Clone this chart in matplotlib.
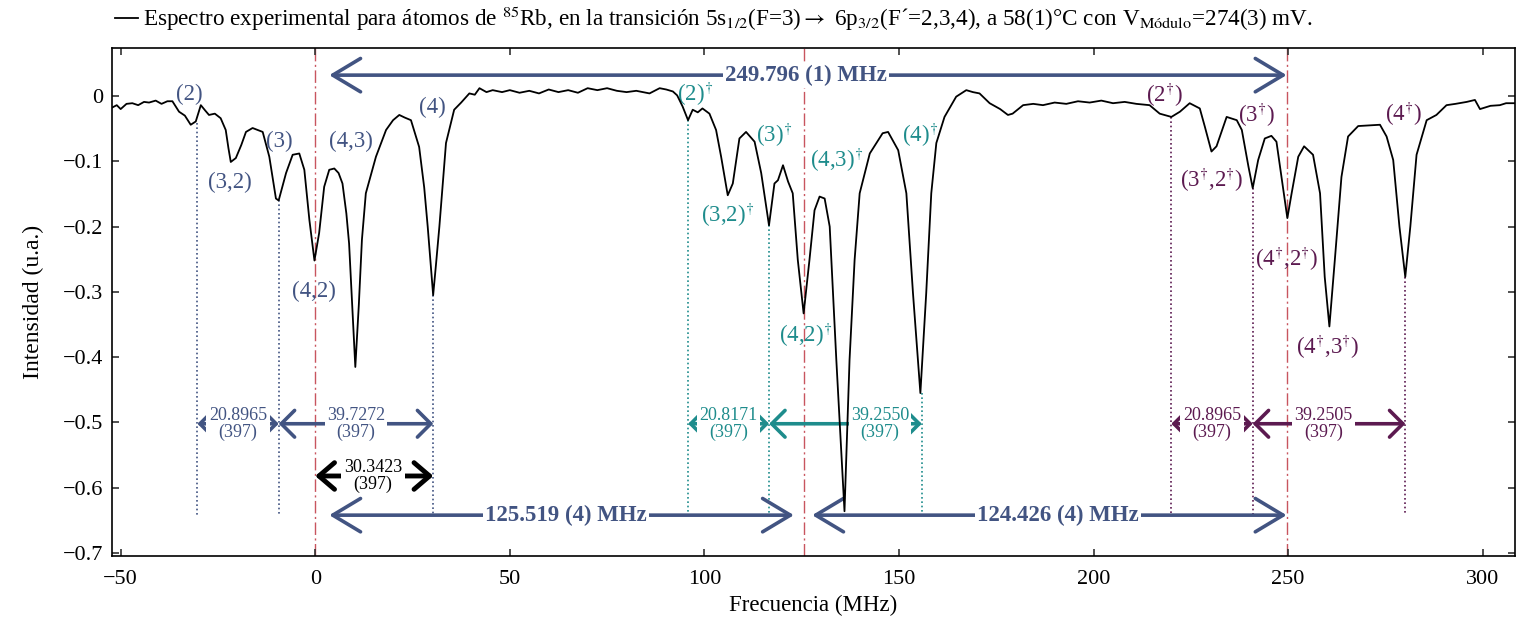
import numpy as np
import matplotlib.pyplot as plt

plt.rcParams['font.family'] = 'Liberation Serif'
plt.rcParams['mathtext.fontset'] = 'stix'
plt.rcParams['font.size'] = 16

# measured spectrum (MHz, a.u.)
freq = [-52.3, -51.0, -50.0, -48.5, -47.0, -45.5, -44.0, -42.7, -41.0, -39.5,
        -38.0, -36.7, -35.0, -33.5, -32.0, -30.7, -29.4, -28.3, -27.3, -25.8,
        -24.3, -23.0, -22.3, -21.7, -20.4, -19.0, -17.8, -16.1, -14.8, -13.5,
        -11.8, -10.1, -9.4, -7.5, -5.8, -4.1, -2.8, -1.5, -0.2, 1.0,
        2.3, 3.6, 4.9, 6.0, 7.0, 8.0, 8.7, 9.5, 10.3, 11.2,
        12.0, 13.0, 15.6, 18.2, 20.0, 21.6, 23.0, 24.6, 26.7, 28.0,
        28.9, 30.3, 31.0, 31.9, 33.6, 35.7, 37.5, 39.6, 41.0, 42.2,
        44.0, 45.6, 48.0, 50.0, 52.5, 55.0, 57.5, 60.0, 62.5, 65.0,
        67.5, 70.0, 72.5, 75.0, 77.5, 80.0, 82.5, 85.9, 88.5, 90.2,
        91.9, 93.0, 94.4, 95.8, 97.0, 98.3, 99.5, 101.3, 103.0, 104.3,
        106.0, 107.3, 109.0, 110.7, 112.9, 114.6, 116.6, 118.0, 118.9, 120.2,
        121.5, 122.7, 124.0, 125.5, 127.0, 128.3, 129.6, 130.9, 132.2, 133.9,
        136.0, 137.3, 138.6, 139.9, 142.5, 145.8, 147.2, 149.8, 151.9, 153.6,
        155.5, 157.0, 158.3, 159.6, 161.7, 164.7, 167.3, 169.0, 170.7, 173.3,
        176.0, 178.0, 179.2, 181.9, 184.5, 187.0, 190.0, 193.0, 196.0, 199.0,
        202.0, 205.0, 208.0, 211.0, 214.4, 217.0, 220.0, 222.2, 224.7, 227.3,
        228.6, 230.3, 231.6, 234.2, 236.8, 238.1, 239.8, 240.9, 242.3, 244.0,
        245.7, 247.0, 248.3, 249.8, 250.9, 252.6, 254.1, 256.4, 258.2, 259.4,
        260.6, 262.0, 263.7, 265.4, 268.0, 271.0, 273.6, 275.3, 277.0, 278.6,
        280.1, 281.4, 283.0, 285.6, 288.1, 290.7, 293.0, 295.9, 298.0, 299.3,
        302.0, 304.4, 306.0, 308.3]
intensity = [-0.018, -0.014, -0.020, -0.012, -0.011, -0.014, -0.009, -0.010, -0.007, -0.012,
             -0.008, -0.008, -0.024, -0.030, -0.044, -0.039, -0.014, -0.022, -0.029, -0.027,
             -0.034, -0.052, -0.080, -0.101, -0.095, -0.075, -0.055, -0.049, -0.052, -0.055,
             -0.093, -0.157, -0.160, -0.118, -0.090, -0.088, -0.113, -0.190, -0.252, -0.210,
             -0.139, -0.113, -0.111, -0.118, -0.134, -0.180, -0.226, -0.320, -0.415, -0.320,
             -0.220, -0.149, -0.093, -0.052, -0.037, -0.029, -0.033, -0.037, -0.078, -0.140,
             -0.200, -0.305, -0.260, -0.200, -0.072, -0.021, -0.010, 0.004, 0.002, 0.012,
             0.006, 0.009, 0.006, 0.009, 0.005, 0.008, 0.004, 0.010, 0.006, 0.009,
             0.005, 0.012, 0.009, 0.012, 0.008, 0.006, 0.008, 0.004, 0.012, 0.010,
             0.007, 0.001, -0.016, -0.037, -0.021, -0.025, -0.019, -0.027, -0.052, -0.093,
             -0.152, -0.134, -0.065, -0.055, -0.070, -0.118, -0.198, -0.134, -0.129, -0.106,
             -0.131, -0.149, -0.251, -0.333, -0.251, -0.175, -0.154, -0.157, -0.200, -0.404,
             -0.636, -0.404, -0.251, -0.149, -0.088, -0.057, -0.055, -0.083, -0.149, -0.302,
             -0.455, -0.302, -0.149, -0.072, -0.032, -0.001, 0.009, 0.006, 0.004, -0.011,
             -0.020, -0.029, -0.027, -0.014, -0.012, -0.014, -0.010, -0.012, -0.008, -0.010,
             -0.007, -0.011, -0.009, -0.012, -0.014, -0.027, -0.032, -0.024, -0.011, -0.019,
             -0.047, -0.085, -0.077, -0.032, -0.037, -0.052, -0.108, -0.141, -0.098, -0.065,
             -0.061, -0.070, -0.124, -0.187, -0.149, -0.093, -0.077, -0.090, -0.149, -0.277,
             -0.353, -0.251, -0.124, -0.062, -0.046, -0.045, -0.044, -0.062, -0.098, -0.200,
             -0.277, -0.200, -0.090, -0.037, -0.029, -0.014, -0.012, -0.009, -0.006, -0.020,
             -0.015, -0.014, -0.011, -0.011]

# crossover centres and the splittings between them
centres = [0.0, 125.519, 249.796]
splits = ['125.519 (4) MHz', '124.426 (4) MHz']
total_split = '249.796 (1) MHz'

# hyperfine peaks of each group and where their guides start
peaks_a = [-30.2814, -9.3849, 30.3423]
depth_a = [-0.041, -0.159, -0.305]
gaps_a = ['20.8965', '39.7272']
peaks_b = [95.82, 116.64, 155.86]
depth_b = [-0.037, -0.198, -0.455]
gaps_b = ['20.8171', '39.2550']
peaks_c = [219.99, 240.89, 280.14]
depth_c = [-0.032, -0.141, -0.277]
gaps_c = ['20.8965', '39.2505']
ref_gap = '30.3423'
n_points = '(397)'

blue = '#425482'
teal = '#1E8C8C'
plum = '#5C1A50'
red = '#C8555F'

fig = plt.figure(figsize=(15.26, 6.27), dpi=100)
ax = fig.add_axes([0.0732, 0.1132, 0.9196, 0.8107])

ax.plot(freq, intensity, color='black', lw=1.3, zorder=6,
        label='Espectro experimental para átomos de $^{85}$Rb, en la transición '
              '5s$_{1/2}$(F=3)$\\rightarrow$ 6p$_{3/2}$(F´=2,3,4), a 58(1)°C con '
              'V$_{\\mathrm{Módulo}}$=274(3) mV.')

for c in centres:
    ax.axvline(c, color=red, lw=1.0, ls=(0, (9, 2.5, 1.5, 2.5)), zorder=1)

y_guide = -0.642
for peaks, depth, col in [(peaks_a, depth_a, blue), (peaks_b, depth_b, teal),
                          (peaks_c, depth_c, plum)]:
    for p, d in zip(peaks, depth):
        ax.plot([p, p], [d, y_guide], color=col, lw=1.2, ls=(0, (1, 1.6)), zorder=2)


def span(x0, x1, y, col, lw, ms, hl, hw):
    ax.annotate('', xy=(x1, y), xytext=(x0, y), zorder=3,
                arrowprops=dict(arrowstyle=f'<->,head_length={hl},head_width={hw}',
                                color=col, lw=lw, shrinkA=0, shrinkB=0,
                                mutation_scale=ms))


def tag(x, y, s, col, size, weight='normal', pad=1.5):
    ax.text(x, y, s, ha='center', va='center', color=col, fontsize=size,
            fontweight=weight, linespacing=0.95, zorder=5,
            bbox=dict(facecolor='white', edgecolor='none', pad=pad))


# long splittings between crossovers
span(3.6, 249.6, 0.032, blue, 2.6, 20, 1.0, 0.6)
tag(126.0, 0.032, total_split, blue, 16.5, 'bold')
span(3.6, 123.0, y_guide, blue, 2.6, 20, 1.0, 0.6)
tag(64.5, y_guide, splits[0], blue, 16.5, 'bold')
span(127.7, 249.6, y_guide, blue, 2.6, 20, 1.0, 0.6)
tag(190.8, y_guide, splits[1], blue, 16.5, 'bold')

# hyperfine splittings inside each group
y_gap = -0.502
for peaks, gaps, col, shift in [(peaks_a, gaps_a, blue, 0.0),
                                (peaks_b, gaps_b, teal, 8.9),
                                (peaks_c, gaps_c, plum, -1.5)]:
    span(peaks[0], peaks[1], y_gap, col, 2.6, 16, 0.6, 0.6)
    span(peaks[1], peaks[2], y_gap, col, 2.6, 16, 0.6, 0.6)
    tag((peaks[0] + peaks[1]) / 2, y_gap, gaps[0] + '\n' + n_points, col, 13, pad=2.0)
    tag((peaks[1] + peaks[2]) / 2 + shift, y_gap, gaps[1] + '\n' + n_points, col, 13,
        pad=1.5)

span(0.0, peaks_a[2], -0.582, 'black', 3.5, 16, 0.7, 0.6)
tag(14.8, -0.582, ref_gap + '\n' + n_points, 'black', 13, pad=2.0)

# peak names
dg = '$^{\\dagger}$'
names = [
    (-32.4, 0.002, '(2)', blue), (-21.9, -0.132, '(3,2)', blue),
    (-9.3, -0.070, '(3)', blue), (9.3, -0.070, '(4,3)', blue),
    (30.1, -0.018, '(4)', blue), (-0.3, -0.300, '(4,2)', blue),
    (97.5, 0.003, '(2)' + dg, teal), (106.0, -0.182, '(3,2)' + dg, teal),
    (118.0, -0.060, '(3)' + dg, teal), (134.0, -0.098, '(4,3)' + dg, teal),
    (155.3, -0.060, '(4)' + dg, teal), (126.0, -0.366, '(4,2)' + dg, teal),
    (218.3, 0.002, '(2' + dg + ')', plum), (241.9, -0.029, '(3' + dg + ')', plum),
    (230.3, -0.129, '(3' + dg + ',2' + dg + ')', plum),
    (249.6, -0.249, '(4' + dg + ',2' + dg + ')', plum),
    (260.3, -0.384, '(4' + dg + ',3' + dg + ')', plum),
    (279.6, -0.027, '(4' + dg + ')', plum),
]
for x, y, s, col in names:
    ax.text(x, y, s, ha='center', va='center', color=col, fontsize=16.5, zorder=5)

ax.set_xlim(-52.3, 308.3)
ax.set_ylim(-0.7046, 0.074)
ax.set_xticks([-50, 0, 50, 100, 150, 200, 250, 300])
ax.set_yticks([0, -0.1, -0.2, -0.3, -0.4, -0.5, -0.6, -0.7])
ax.set_yticklabels(['0', '−0.1', '−0.2', '−0.3', '−0.4', '−0.5', '−0.6', '−0.7'])
ax.tick_params(direction='in', top=True, right=True, length=5, width=1.2,
               labelsize=16, color='#333333')
ax.tick_params(axis='x', pad=10)
ax.tick_params(axis='y', pad=6)
for s in ax.spines.values():
    s.set_linewidth(1.2)
ax.set_xlabel('Frecuencia (MHz)', fontsize=16.5, labelpad=4)
ax.set_ylabel('Intensidad (u.a.)', fontsize=17, labelpad=14)

fig.legend(loc='center left', bbox_to_anchor=(115 / 1526, 1 - 19 / 627),
           frameon=False, handlelength=1.0, handletextpad=0.2, borderpad=0,
           borderaxespad=0, fontsize=16.7)

fig.savefig('out.png', dpi=100)
